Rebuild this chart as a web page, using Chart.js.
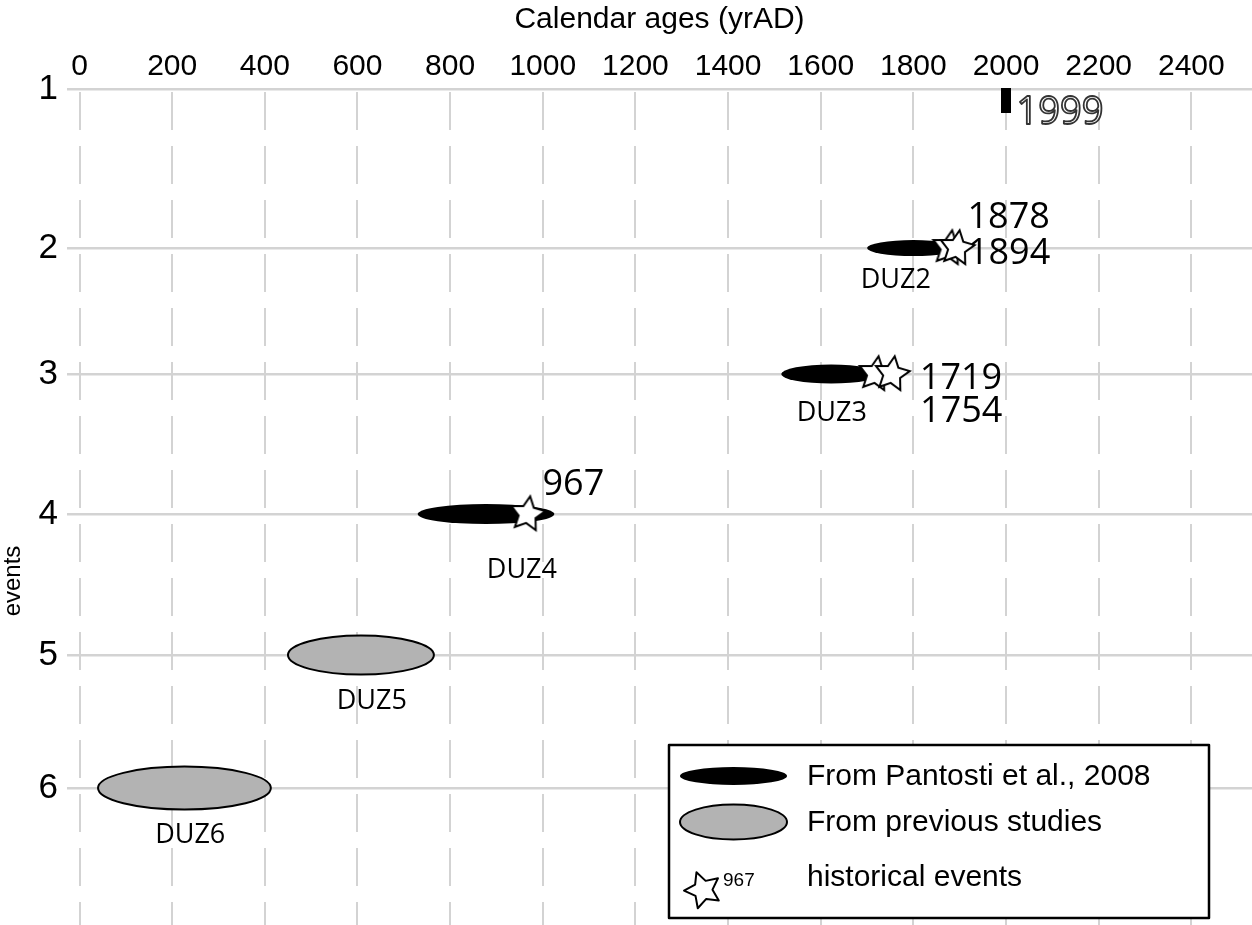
<!DOCTYPE html>
<html>
<head>
<meta charset="utf-8">
<script src="https://cdn.jsdelivr.net/npm/chart.js@4/dist/chart.umd.min.js"></script>
<style>
  html, body { margin: 0; padding: 0; background: #fff; }
  canvas { display: block; }
</style>
</head>
<body>
<canvas id="chart" width="1252" height="925"></canvas>
<script>
// ---- Axes --------------------------------------------------------------
const eventNumbers = [1, 2, 3, 4, 5, 6];
const xTickValues = [0, 200, 400, 600, 800, 1000, 1200, 1400, 1600, 1800, 2000, 2200, 2400];
const xTitle = 'Calendar ages (yrAD)';
const yTitle = 'events';

// ---- Paleoseismic events: calendar age ranges (yr AD) ------------------
const trenchNames = ['DUZ2', 'DUZ3', 'DUZ4', 'DUZ5', 'DUZ6'];
const trenchRows = [2, 3, 4, 5, 6];
const ageFrom = [1700, 1515, 730, 450, 40];
const ageTo = [1900, 1730, 1025, 765, 413];
const ageSource = ['pantosti', 'pantosti', 'pantosti', 'previous', 'previous'];

// ---- Historical earthquakes (yr AD) and their event rows ---------------
const historicalYears = [1878, 1894, 1719, 1754, 967];
const historicalRows = [2, 2, 3, 3, 4];

// ---- Most recent event ---------------------------------------------------
const lastEventYears = [1999];
const lastEventRows = [1];

// ---- Legend ----------------------------------------------------------------
const legendLabels = ['From Pantosti et al., 2008', 'From previous studies', 'historical events'];
const legendStarLabel = '967';

// ---- Layout (vertical placement of rows, glyph sizes, label offsets) ----
const rowPlacement = [1, 2.136, 3.036, 4.036, 5.043, 5.993];
const yAxisMax = 6.971;
const ellipseHeight = [16, 19, 20, 39, 43];
const nameAnchor = [
  { year: 1762, dy: 32 }, { year: 1624, dy: 39 }, { year: 955, dy: 56 },
  { year: 631, dy: 46 }, { year: 239, dy: 47 }
];
const yearLabelOffset = [
  { dx: 18, dy: -30 }, { dx: 11, dy: 6 }, { dx: 44, dy: 5 },
  { dx: 28, dy: 38 }, { dx: 15, dy: -29 }
];
const lastLabelOffset = { dx: 11, dy: 24 };

const SANS = '"Liberation Sans", Arial, sans-serif';
const HUMANIST = '"Open Sans", "Noto Sans", sans-serif';

function rowValue(eventNo) {
  return rowPlacement[eventNumbers.indexOf(eventNo)];
}

// Five-pointed star used for historical earthquakes
function starPath(g, cx, cy, R, ratio, rot) {
  g.beginPath();
  for (let i = 0; i < 10; i++) {
    const r = i % 2 ? R * ratio : R;
    const a = -Math.PI / 2 + rot + i * Math.PI / 5;
    const px = cx + r * Math.cos(a), py = cy + r * Math.sin(a);
    if (i === 0) g.moveTo(px, py); else g.lineTo(px, py);
  }
  g.closePath();
}
function makeStarImage(R) {
  const s = Math.ceil(R * 2 + 6);
  const cv = document.createElement('canvas');
  cv.width = s; cv.height = s;
  const g = cv.getContext('2d');
  starPath(g, s / 2, s / 2, R, 0.5, 0.15);
  g.fillStyle = '#fff';
  g.fill();
  g.lineWidth = 2;
  g.strokeStyle = '#000';
  g.stroke();
  return cv;
}
// Small black bar marking the latest event, hanging below its row
function makeMarkerImage() {
  const cv = document.createElement('canvas');
  cv.width = 10; cv.height = 50;
  const g = cv.getContext('2d');
  g.fillStyle = '#000';
  g.fillRect(0, 24, 10, 25);
  return cv;
}

const starImage = makeStarImage(18);
const markerImage = makeMarkerImage();

// Age-range ellipses, drawn beneath the point datasets
const ellipsePlugin = {
  id: 'ageEllipses',
  beforeDatasetsDraw(chart) {
    const { ctx } = chart;
    const xs = chart.scales.x, ys = chart.scales.y;
    ctx.save();
    trenchNames.forEach((name, i) => {
      const x0 = xs.getPixelForValue(ageFrom[i]);
      const x1 = xs.getPixelForValue(ageTo[i]);
      const yc = ys.getPixelForValue(rowValue(trenchRows[i]));
      ctx.beginPath();
      ctx.ellipse((x0 + x1) / 2, yc, (x1 - x0) / 2, ellipseHeight[i] / 2, 0, 0, Math.PI * 2);
      if (ageSource[i] === 'pantosti') {
        ctx.fillStyle = '#000';
        ctx.fill();
      } else {
        ctx.fillStyle = '#b3b3b3';
        ctx.fill();
        ctx.lineWidth = 2;
        ctx.strokeStyle = '#000';
        ctx.stroke();
      }
    });
    ctx.restore();
  }
};

// Event names, year labels, rotated y title and the framed legend
const annotationPlugin = {
  id: 'annotations',
  afterDatasetsDraw(chart) {
    const { ctx } = chart;
    const xs = chart.scales.x, ys = chart.scales.y;
    ctx.save();

    // Event names under each ellipse
    ctx.fillStyle = '#000';
    ctx.font = '27px ' + HUMANIST;
    ctx.textAlign = 'center';
    ctx.textBaseline = 'middle';
    trenchNames.forEach((name, i) => {
      const x = xs.getPixelForValue(nameAnchor[i].year);
      const y = ys.getPixelForValue(rowValue(trenchRows[i])) + nameAnchor[i].dy;
      ctx.fillText(name, x, y);
    });

    // Historical years next to their stars
    ctx.font = '36px ' + HUMANIST;
    ctx.textAlign = 'left';
    historicalYears.forEach((yr, i) => {
      const x = xs.getPixelForValue(yr) + yearLabelOffset[i].dx;
      const y = ys.getPixelForValue(rowValue(historicalRows[i])) + yearLabelOffset[i].dy;
      ctx.fillText(String(yr), x, y);
    });

    // Latest event, outlined lettering
    ctx.font = '38px ' + HUMANIST;
    lastEventYears.forEach((yr, i) => {
      const x = xs.getPixelForValue(yr) + lastLabelOffset.dx;
      const y = ys.getPixelForValue(rowValue(lastEventRows[i])) + lastLabelOffset.dy;
      ctx.lineJoin = 'round';
      ctx.fillStyle = '#fff';
      ctx.fillText(String(yr), x, y);
      ctx.lineWidth = 1.8;
      ctx.strokeStyle = '#333';
      ctx.strokeText(String(yr), x, y);
    });

    // Y axis title
    ctx.save();
    ctx.translate(13, 581);
    ctx.rotate(-Math.PI / 2);
    ctx.fillStyle = '#000';
    ctx.font = '24px ' + SANS;
    ctx.textAlign = 'center';
    ctx.textBaseline = 'middle';
    ctx.fillText(yTitle, 0, 0);
    ctx.restore();

    // Legend
    const box = { x: 669, y: 745, w: 540, h: 173 };
    ctx.fillStyle = '#fff';
    ctx.fillRect(box.x, box.y, box.w, box.h);
    ctx.lineWidth = 2.5;
    ctx.strokeStyle = '#000';
    ctx.strokeRect(box.x, box.y, box.w, box.h);

    ctx.beginPath();
    ctx.ellipse(733.5, 776, 53.5, 9, 0, 0, Math.PI * 2);
    ctx.fillStyle = '#000';
    ctx.fill();

    ctx.beginPath();
    ctx.ellipse(733.5, 822, 53.5, 17.5, 0, 0, Math.PI * 2);
    ctx.fillStyle = '#b3b3b3';
    ctx.fill();
    ctx.lineWidth = 2;
    ctx.strokeStyle = '#000';
    ctx.stroke();

    starPath(ctx, 703, 890, 19, 0.5, -0.35);
    ctx.fillStyle = '#fff';
    ctx.fill();
    ctx.lineWidth = 2;
    ctx.strokeStyle = '#000';
    ctx.stroke();

    ctx.fillStyle = '#000';
    ctx.textAlign = 'left';
    ctx.textBaseline = 'middle';
    ctx.font = '19px ' + SANS;
    ctx.fillText(legendStarLabel, 723, 881);
    ctx.font = '30px ' + SANS;
    const legendY = [777, 823, 878];
    legendLabels.forEach((t, i) => ctx.fillText(t, 807, legendY[i]));

    ctx.restore();
  }
};

new Chart(document.getElementById('chart'), {
  type: 'scatter',
  data: {
    datasets: [
      {
        label: 'historical events',
        data: historicalYears.map((yr, i) => ({ x: yr, y: rowValue(historicalRows[i]) })),
        pointStyle: starImage,
        clip: false
      },
      {
        label: 'latest event',
        data: lastEventYears.map((yr, i) => ({ x: yr, y: rowValue(lastEventRows[i]) })),
        pointStyle: markerImage,
        clip: false
      }
    ]
  },
  options: {
    responsive: false,
    animation: false,
    layout: { padding: 0, autoPadding: false },
    plugins: {
      legend: { display: false },
      tooltip: { enabled: false }
    },
    scales: {
      x: {
        type: 'linear',
        position: 'top',
        min: -27,
        max: 2531,
        afterBuildTicks(scale) {
          scale.ticks = xTickValues.map(v => ({ value: v }));
        },
        afterFit(scale) {
          scale.height = 89;
          scale.paddingLeft = 0;
          scale.paddingRight = 0;
        },
        ticks: {
          font: { family: SANS, size: 30 },
          color: '#000',
          padding: 4,
          maxRotation: 0,
          autoSkip: false,
          callback: v => String(v)
        },
        title: {
          display: true,
          text: xTitle,
          font: { family: SANS, size: 30 },
          color: '#000',
          padding: { top: 2, bottom: 0 }
        },
        grid: { color: '#d3d3d3', lineWidth: 2, drawTicks: false },
        border: { display: false, dash: [38, 16], dashOffset: 51 }
      },
      y: {
        type: 'linear',
        reverse: true,
        min: 1,
        max: yAxisMax,
        afterBuildTicks(scale) {
          scale.ticks = rowPlacement.map(v => ({ value: v }));
        },
        afterFit(scale) {
          scale.width = 67;
          scale.paddingTop = 0;
          scale.paddingBottom = 0;
        },
        ticks: {
          font: { family: SANS, size: 35 },
          color: '#000',
          padding: 9,
          autoSkip: false,
          callback: (v, i) => String(eventNumbers[i])
        },
        grid: { color: '#d3d3d3', lineWidth: 2.5, drawTicks: false },
        border: { display: false }
      }
    }
  },
  plugins: [ellipsePlugin, annotationPlugin]
});
</script>
</body>
</html>
